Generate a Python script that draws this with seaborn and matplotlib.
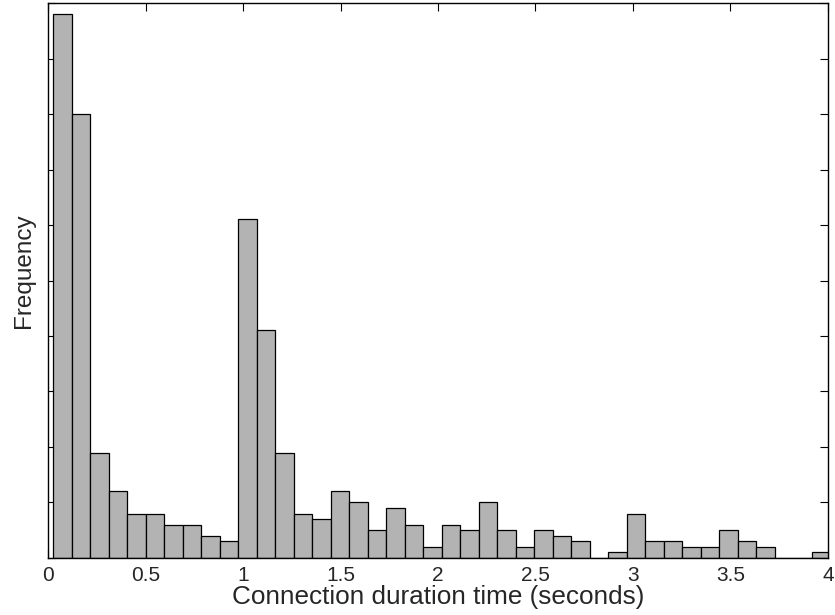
import numpy as np
import pandas as pd
import matplotlib
matplotlib.use("Agg")
import matplotlib.pyplot as plt
import seaborn as sns

# Histogram of connection durations: 42 equal-width bins
bin_start = 0.0256
bin_stop = 4.0114
n_bins = 42
counts = [98, 80, 19, 12, 8, 8, 6, 6, 4, 3,
          61, 41, 19, 8, 7, 12, 10, 5, 9, 6,
          2, 6, 5, 10, 5, 2, 5, 4, 3, 0,
          1, 8, 3, 3, 2, 2, 5, 3, 2, 0,
          0, 1]
x_ticks = [0, 0.5, 1, 1.5, 2, 2.5, 3, 3.5, 4]
x_tick_labels = ["0", "0.5", "1", "1.5", "2", "2.5", "3", "3.5", "4"]
y_ticks = [0, 10, 20, 30, 40, 50, 60, 70, 80, 90, 100]

edges = np.linspace(bin_start, bin_stop, n_bins + 1)
centers = (edges[:-1] + edges[1:]) / 2
df = pd.DataFrame({"duration": centers, "count": counts})

sns.set_style("white")
plt.rcParams["font.family"] = ["Liberation Sans", "DejaVu Sans"]

fig = plt.figure(figsize=(8.35, 6.15), dpi=100)
ax = fig.add_axes([0.0575, 0.0927, 0.9341, 0.9024])

sns.histplot(data=df, x="duration", weights="count", bins=n_bins,
             binrange=(bin_start, bin_stop),
             color="#b3b3b3", edgecolor="black", linewidth=0.9,
             alpha=1.0, ax=ax)

ax.set_xlim(0, 4)
ax.set_ylim(0, 100)
ax.set_xticks(x_ticks)
ax.set_xticklabels(x_tick_labels)
ax.set_yticks(y_ticks)
ax.set_yticklabels([])
ax.tick_params(axis="both", direction="in", length=5.8, width=0.8,
               top=True, right=True, bottom=True, left=True,
               labelsize=15, color="black", pad=6)
for side in ["left", "right", "top", "bottom"]:
    ax.spines[side].set_visible(True)
    ax.spines[side].set_color("black")
    ax.spines[side].set_linewidth(1.0)

ax.set_xlabel("Connection duration time (seconds)", fontsize=18.8, labelpad=0)
ax.set_ylabel("Frequency", fontsize=17.5)
ax.yaxis.set_label_coords(-0.017, 0.517)

fig.savefig("out.png", dpi=100)
